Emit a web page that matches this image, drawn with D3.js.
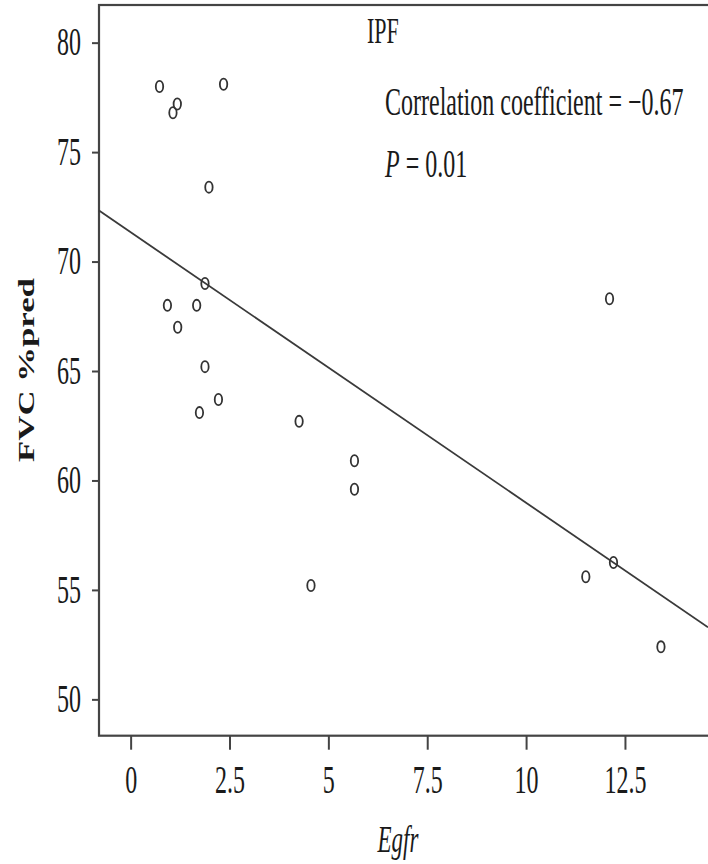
<!DOCTYPE html>
<html>
<head>
<meta charset="utf-8">
<script src="https://cdn.jsdelivr.net/npm/d3@7"></script>
<style>
  html, body { margin: 0; padding: 0; background: #fff; overflow: hidden; }
  svg text { font-family: "Liberation Serif", "Times New Roman", serif; fill: #1a1a1a; }
</style>
</head>
<body>
<div id="chart"></div>
<script>
// values
const egfr = [0.73, 2.35, 1.18, 1.07, 1.98, 1.88, 0.93, 1.67, 1.19, 1.88,
              2.22, 1.74, 4.26, 5.66, 5.66, 4.56, 12.11, 12.21, 11.51, 13.41];
const fvc = [78.0, 78.1, 77.2, 76.8, 73.4, 69.0, 68.0, 68.0, 67.0, 65.2,
             63.7, 63.1, 62.7, 60.9, 59.6, 55.2, 68.3, 56.25, 55.6, 52.4];
const xTicks = [0, 2.5, 5, 7.5, 10, 12.5];
const yTicks = [50, 55, 60, 65, 70, 75, 80];
const fitIntercept = 71.34;
const fitSlope = -1.236;
const panelTitle = 'IPF';
const statsText = 'Correlation coefficient = \u22120.67';
const pText = '0.01';

const width = 708;
const height = 864;
const stretch = 1.65; // the text in the figure is tall and narrow
const fontSize = 24;

const svg = d3.select('#chart').append('svg')
    .attr('width', width)
    .attr('height', height);

const xScale = d3.scaleLinear().domain([-0.8, 14.6]).range([99, 708]);
const yScale = d3.scaleLinear().domain([48.34, 81.72]).range([735.7, 5]);

const axisColor = '#444';

// frame (runs off the right edge, as in the figure)
svg.append('rect')
    .attr('x', xScale(-0.8))
    .attr('y', yScale(81.72))
    .attr('width', 640)
    .attr('height', yScale(48.34) - yScale(81.72))
    .attr('fill', 'none')
    .attr('stroke', axisColor)
    .attr('stroke-width', 2.2);

// x axis
const xAxis = d3.axisBottom(xScale).tickValues(xTicks).tickSize(14).tickSizeOuter(0)
    .tickFormat(d => String(d));
const gx = svg.append('g')
    .attr('transform', `translate(0, ${yScale(48.34)})`)
    .call(xAxis);
gx.select('.domain').remove();
gx.selectAll('line').attr('stroke', axisColor).attr('stroke-width', 2);
gx.selectAll('text')
    .attr('y', 0).attr('dy', null)
    .attr('transform', `translate(0, ${793 - 735.7}) scale(1, ${stretch})`)
    .attr('fill', '#1a1a1a')
    .style('font-size', fontSize + 'px')
    .style('font-family', '"Liberation Serif", serif');

// y axis
const yAxis = d3.axisLeft(yScale).tickValues(yTicks).tickSize(7).tickSizeOuter(0);
const gy = svg.append('g')
    .attr('transform', `translate(${xScale(-0.8)}, 0)`)
    .call(yAxis);
gy.select('.domain').remove();
gy.selectAll('line').attr('stroke', axisColor).attr('stroke-width', 2);
gy.selectAll('text')
    .attr('x', 0).attr('dy', null)
    .attr('text-anchor', 'end')
    .attr('transform', `translate(-18, 12.3) scale(1, ${stretch})`)
    .attr('fill', '#1a1a1a')
    .style('font-size', fontSize + 'px')
    .style('font-family', '"Liberation Serif", serif');

// regression line
const fitX = xScale.domain();
svg.append('line')
    .attr('x1', xScale(fitX[0]))
    .attr('y1', yScale(fitIntercept + fitSlope * fitX[0]))
    .attr('x2', xScale(fitX[1]))
    .attr('y2', yScale(fitIntercept + fitSlope * fitX[1]))
    .attr('stroke', '#3a3a3a')
    .attr('stroke-width', 1.8);

// points
const points = egfr.map((x, i) => ({ x, y: fvc[i] }));
svg.selectAll('.pt')
    .data(points)
    .enter()
    .append('ellipse')
    .attr('class', 'pt')
    .attr('cx', d => xScale(d.x))
    .attr('cy', d => yScale(d.y))
    .attr('rx', 3.7)
    .attr('ry', 5.6)
    .attr('fill', 'none')
    .attr('stroke', '#333')
    .attr('stroke-width', 1.8);

// annotations
svg.append('text')
    .attr('transform', `translate(367, 43) scale(1, ${stretch})`)
    .style('font-size', '22px')
    .text(panelTitle);

svg.append('text')
    .attr('transform', `translate(385, 115) scale(1, ${stretch})`)
    .style('font-size', fontSize + 'px')
    .text(statsText);

const pLine = svg.append('text')
    .attr('transform', `translate(385, 177) scale(1, ${stretch})`)
    .style('font-size', fontSize + 'px');
pLine.append('tspan').style('font-style', 'italic').text('P');
pLine.append('tspan').text(' = ' + pText);

// axis titles
svg.append('text')
    .attr('transform', `translate(398, 852) scale(1, ${stretch})`)
    .attr('text-anchor', 'middle')
    .style('font-size', '23px')
    .style('font-style', 'italic')
    .text('Egfr');

svg.append('text')
    .attr('transform', `translate(34, 370) scale(1, 1.45) rotate(-90)`)
    .attr('text-anchor', 'middle')
    .style('font-size', '24px')
    .style('font-weight', 'bold')
    .text('FVC %pred');
</script>
</body>
</html>
